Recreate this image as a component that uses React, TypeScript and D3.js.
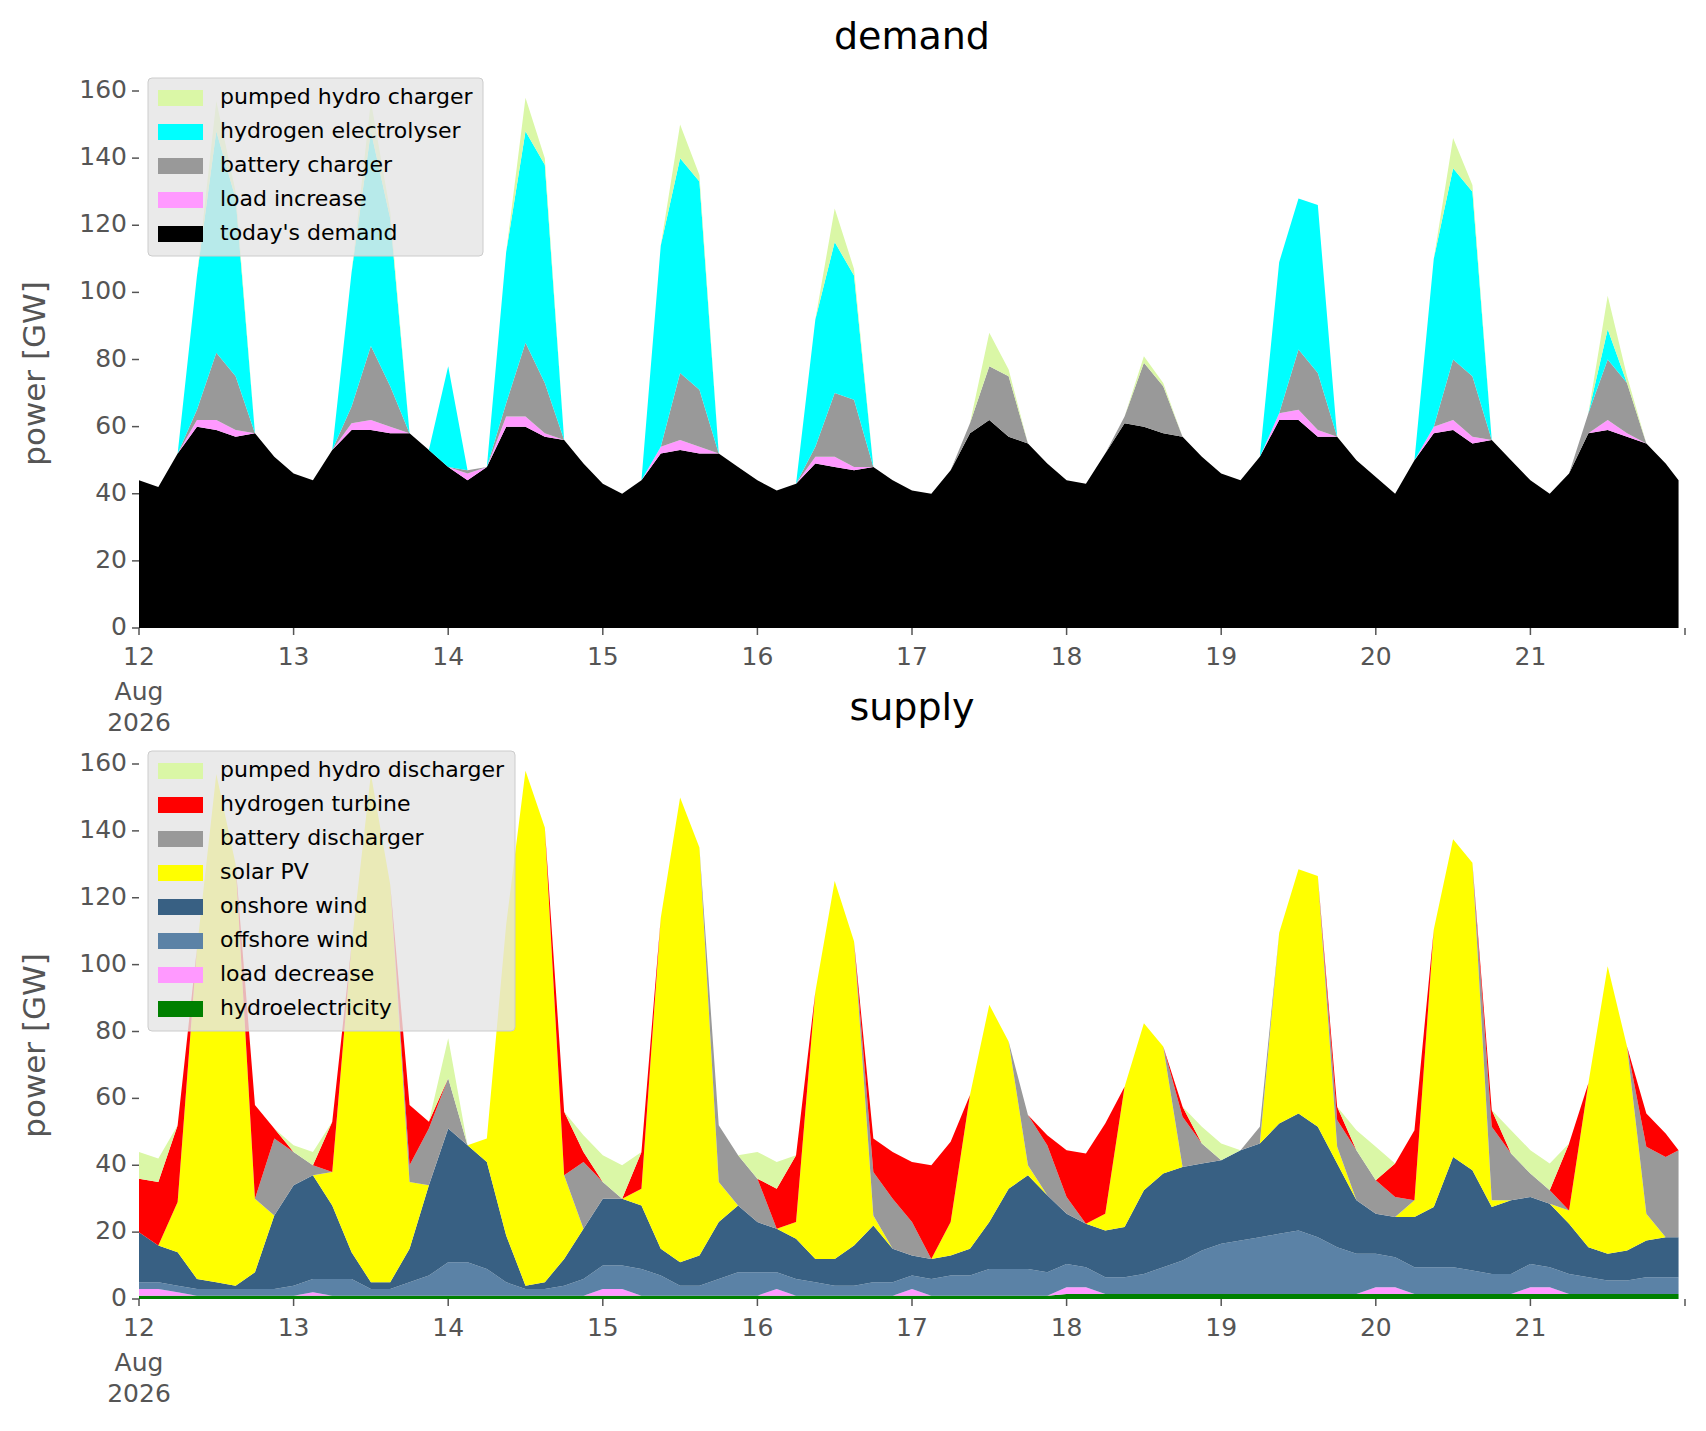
import React from 'react';
import * as d3 from 'd3';

// ── Data (3-hourly from 12 Aug 2026 00:00, last point 21 Aug 23:00) ─────────
const HOURS = [...d3.range(0, 240, 3), 239];
const DAY_LABELS = ['12', '13', '14', '15', '16', '17', '18', '19', '20', '21'];
const Y_TICKS = [0, 20, 40, 60, 80, 100, 120, 140, 160];

const todaysDemand = [
  44, 42, 52, 60, 59, 57, 58, 51, 46, 44, 53, 59, 59, 58, 58, 53,
  48, 44, 48, 60, 60, 57, 56, 49, 43, 40, 44, 52, 53, 52, 52, 48,
  44, 41, 43, 49, 48, 47, 48, 44, 41, 40, 47, 58, 62, 57, 55, 49,
  44, 43, 52, 61, 60, 58, 57, 51, 46, 44, 51, 62, 62, 57, 57, 50,
  45, 40, 50, 58, 59, 55, 56, 50, 44, 40, 46, 58, 59, 57, 55, 49, 44,
];
const loadIncrease = [
  0, 0, 0, 2, 3, 2, 0, 0, 0, 0, 0, 2, 3, 2, 0, 0,
  0, 2, 0, 3, 3, 1, 0, 0, 0, 0, 0, 2, 3, 2, 0, 0,
  0, 0, 0, 2, 3, 1, 0, 0, 0, 0, 0, 0, 0, 0, 0, 0,
  0, 0, 0, 0, 0, 0, 0, 0, 0, 0, 0, 2, 3, 2, 0, 0,
  0, 0, 0, 2, 3, 2, 0, 0, 0, 0, 0, 0, 3, 1, 0, 0, 0,
];
const batteryCharger = [
  0, 0, 0, 3, 20, 16, 0, 0, 0, 0, 0, 5, 22, 12, 0, 0,
  0, 1, 0, 4, 22, 15, 0, 0, 0, 0, 0, 0, 20, 17, 0, 0,
  0, 0, 0, 3, 19, 20, 0, 0, 0, 0, 0, 3, 16, 18, 0, 0,
  0, 0, 0, 2, 19, 14, 0, 0, 0, 0, 0, 0, 18, 17, 0, 0,
  0, 0, 0, 0, 18, 18, 0, 0, 0, 0, 0, 6, 18, 15, 0, 0, 0,
];
const electrolyser = [
  0, 0, 0, 40, 66, 53, 0, 0, 0, 0, 0, 40, 64, 50, 0, 0,
  30, 0, 0, 45, 63, 65, 0, 0, 0, 0, 0, 60, 64, 62, 0, 0,
  0, 0, 0, 38, 45, 37, 0, 0, 0, 0, 0, 0, 0, 0, 0, 0,
  0, 0, 0, 0, 0, 0, 0, 0, 0, 0, 0, 45, 45, 50, 0, 0,
  0, 0, 0, 50, 57, 55, 0, 0, 0, 0, 0, 0, 9, 0, 0, 0, 0,
];
const pumpedCharger = [
  0, 0, 0, 0, 9, 2, 0, 0, 0, 0, 0, 0, 9, 2, 0, 0,
  0, 0, 0, 0, 10, 2, 0, 0, 0, 0, 0, 0, 10, 2, 0, 0,
  0, 0, 0, 0, 10, 2, 0, 0, 0, 0, 0, 0, 10, 2, 0, 0,
  0, 0, 0, 0, 2, 1, 0, 0, 0, 0, 0, 0, 0, 0, 0, 0,
  0, 0, 0, 0, 9, 2, 0, 0, 0, 0, 0, 0, 10, 2, 0, 0, 0,
];

const hydro = [
  1, 1, 1, 1, 1, 1, 1, 1, 1, 1, 1, 1, 1, 1, 1, 1,
  1, 1, 1, 1, 1, 1, 1, 1, 1, 1, 1, 1, 1, 1, 1, 1,
  1, 1, 1, 1, 1, 1, 1, 1, 1, 1, 1, 1, 1, 1, 1, 1,
  1.5, 1.5, 1.5, 1.5, 1.5, 1.5, 1.5, 1.5, 1.5, 1.5, 1.5, 1.5, 1.5, 1.5, 1.5, 1.5,
  1.5, 1.5, 1.5, 1.5, 1.5, 1.5, 1.5, 1.5, 1.5, 1.5, 1.5, 1.5, 1.5, 1.5, 1.5, 1.5, 1.5,
];
const loadDecrease = [
  2, 2, 1, 0, 0, 0, 0, 0, 0, 1, 0, 0, 0, 0, 0, 0,
  0, 0, 0, 0, 0, 0, 0, 0, 2, 2, 0, 0, 0, 0, 0, 0,
  0, 2, 0, 0, 0, 0, 0, 0, 2, 0, 0, 0, 0, 0, 0, 0,
  2, 2, 0, 0, 0, 0, 0, 0, 0, 0, 0, 0, 0, 0, 0, 0,
  2, 2, 0, 0, 0, 0, 0, 0, 2, 2, 0, 0, 0, 0, 0, 0, 0,
];
const offshoreWind = [
  2, 2, 2, 2, 2, 2, 2, 2, 3, 4, 5, 5, 2, 2, 4, 6,
  10, 10, 8, 4, 2, 2, 3, 5, 7, 7, 8, 6, 3, 3, 5, 7,
  7, 5, 5, 4, 3, 3, 4, 4, 4, 5, 6, 6, 8, 8, 8, 7,
  7, 6, 5, 5, 6, 8, 10, 13, 15, 16, 17, 18, 19, 17, 14, 12,
  10, 9, 8, 8, 8, 7, 6, 6, 7, 6, 6, 5, 4, 4, 5, 5, 5,
];
const onshoreWind = [
  15, 11, 10, 3, 2, 1, 5, 22, 30, 31, 22, 8, 2, 2, 10, 27,
  40, 35, 32, 14, 1, 2, 8, 15, 20, 20, 19, 8, 7, 9, 17, 20,
  15, 13, 12, 7, 8, 12, 17, 10, 6, 6, 6, 8, 14, 24, 28, 23,
  15, 13, 14, 15, 25, 28, 28, 26, 25, 27, 28, 33, 35, 33, 25, 16,
  12, 12, 15, 18, 33, 30, 20, 22, 20, 19, 15, 9, 8, 9, 11, 12, 12,
];
const solarPV = [
  0, 0, 15, 99, 152, 126, 22, 0, 0, 0, 10, 92, 152, 119, 20, 0,
  0, 0, 7, 93, 154, 136, 25, 0, 0, 0, 5, 99, 139, 122, 12, 0,
  0, 0, 5, 80, 113, 91, 3, 0, 0, 0, 10, 46, 65, 44, 3, 0,
  0, 0, 5, 42, 50, 38, 0, 0, 0, 0, 0, 57, 73, 75, 5, 0,
  0, 0, 5, 83, 95, 92, 2, 0, 0, 0, 4, 49, 86, 61, 8, 0, 0,
];
const batteryDischarger = [
  0, 0, 0, 0, 0, 0, 0, 23, 10, 3, 0, 0, 0, 0, 5, 17,
  15, 0, 0, 0, 0, 0, 0, 20, 5, 0, 0, 0, 0, 0, 17, 15,
  13, 0, 0, 0, 0, 0, 13, 15, 10, 0, 0, 0, 0, 0, 15, 15,
  5, 0, 0, 0, 0, 0, 15, 6, 0, 0, 5, 0, 0, 0, 8, 15,
  10, 6, 0, 0, 0, 0, 22, 14, 7, 4, 0, 0, 0, 0, 20, 24, 26,
];
const hydrogenTurbine = [
  16, 19, 23, 0, 0, 0, 28, 3, 0, 0, 15, 0, 0, 0, 18, 2,
  0, 0, 0, 0, 0, 0, 19, 3, 0, 0, 11, 0, 0, 0, 0, 0,
  0, 12, 20, 0, 0, 0, 10, 14, 18, 28, 24, 0, 0, 0, 0, 3,
  14, 21, 27, 0, 0, 0, 3, 0, 0, 0, 0, 0, 0, 0, 4, 0,
  0, 10, 21, 0, 0, 0, 5, 0, 0, 0, 20, 0, 0, 0, 10, 7, 0,
];
const pumpedDischarger = [
  8, 7, 0, 0, 0, 0, 0, 0, 2, 4, 0, 0, 0, 0, 0, 0,
  12, 0, 0, 0, 0, 0, 0, 5, 8, 10, 0, 0, 0, 0, 0, 0,
  8, 8, 0, 0, 0, 0, 0, 0, 0, 0, 0, 0, 0, 0, 0, 0,
  0, 0, 0, 0, 0, 0, 0, 5, 5, 0, 0, 0, 0, 0, 0, 6,
  10, 0, 0, 0, 0, 0, 0, 7, 7, 8, 0, 0, 0, 0, 0, 0, 0,
];

interface Series { name: string; color: string; values: number[] }

// bottom → top stacking order
const DEMAND: Series[] = [
  { name: "today's demand", color: '#000000', values: todaysDemand },
  { name: 'load increase', color: '#ff99ff', values: loadIncrease },
  { name: 'battery charger', color: '#999999', values: batteryCharger },
  { name: 'hydrogen electrolyser', color: '#00ffff', values: electrolyser },
  { name: 'pumped hydro charger', color: '#daf7a6', values: pumpedCharger },
];
const SUPPLY: Series[] = [
  { name: 'hydroelectricity', color: '#008000', values: hydro },
  { name: 'load decrease', color: '#ff99ff', values: loadDecrease },
  { name: 'offshore wind', color: '#5b82a6', values: offshoreWind },
  { name: 'onshore wind', color: '#386083', values: onshoreWind },
  { name: 'solar PV', color: '#ffff00', values: solarPV },
  { name: 'battery discharger', color: '#999999', values: batteryDischarger },
  { name: 'hydrogen turbine', color: '#ff0000', values: hydrogenTurbine },
  { name: 'pumped hydro discharger', color: '#daf7a6', values: pumpedDischarger },
];

const FONT = '"DejaVu Sans", sans-serif';
const X0 = 139, X1 = 1685;
const x = d3.scaleLinear().domain([0, 239]).range([X0, X1 - 1546 / 240]);

const Panel: React.FC<{ title: string; series: Series[]; y0: number; y160: number; titleY: number; legendTop: number }> =
  ({ title, series, y0, y160, titleY, legendTop }) => {
  const y = d3.scaleLinear().domain([0, 160]).range([y0, y160]);
  const rows = HOURS.map((h, i) => {
    const r: Record<string, number> = { h };
    series.forEach(s => { r[s.name] = s.values[i]; });
    return r;
  });
  const stacked = d3.stack<Record<string, number>>().keys(series.map(s => s.name))(rows);
  const area = d3.area<d3.SeriesPoint<Record<string, number>>>()
    .x(d => x(d.data.h)).y0(d => y(d[0])).y1(d => y(d[1]));
  const legendItems = [...series].reverse();
  const legendW = title === 'demand' ? 335 : 367;
  const rowH = 34;
  const tickColor = '#555555';
  return (
    <g fontFamily={FONT}>
      <text x={912} y={titleY} textAnchor="middle" dominantBaseline="middle" fontSize={38} fill="#000">{title}</text>
      {stacked.map((layer, i) => (
        <path key={layer.key} d={area(layer) || ''} fill={series[i].color} />
      ))}
      {Y_TICKS.map(t => (
        <g key={t}>
          <line x1={X0 - 7} x2={X0} y1={y(t)} y2={y(t)} stroke={tickColor} strokeWidth={1.5} />
          <text x={X0 - 12} y={y(t)} textAnchor="end" dominantBaseline="middle" fontSize={25} fill={tickColor}>{t}</text>
        </g>
      ))}
      {DAY_LABELS.map((lab, i) => (
        <g key={lab}>
          <line x1={x(i * 24)} x2={x(i * 24)} y1={y0} y2={y0 + 7} stroke={tickColor} strokeWidth={1.5} />
          <text x={x(i * 24)} y={y0 + 30} textAnchor="middle" dominantBaseline="middle" fontSize={25} fill={tickColor}>{lab}</text>
        </g>
      ))}
      <line x1={X1} x2={X1} y1={y0} y2={y0 + 7} stroke={tickColor} strokeWidth={1.5} />
      <text x={x(0)} y={y0 + 65} textAnchor="middle" dominantBaseline="middle" fontSize={25} fill={tickColor}>Aug</text>
      <text x={x(0)} y={y0 + 96} textAnchor="middle" dominantBaseline="middle" fontSize={25} fill={tickColor}>2026</text>
      <text transform={`translate(36,${(y0 + y160) / 2 + 14}) rotate(-90)`} textAnchor="middle" dominantBaseline="middle"
        fontSize={31} fill={tickColor}>power [GW]</text>
      <g transform={`translate(148,${legendTop})`}>
        <rect width={legendW} height={legendItems.length * rowH + 8} rx={4} fill="#e5e5e5" fillOpacity={0.8} stroke="#cccccc" />
        {legendItems.map((s, i) => (
          <g key={s.name} transform={`translate(0,${20 + i * rowH})`}>
            <rect x={10} y={-8} width={45} height={16} fill={s.color} />
            <text x={72} y={0} dominantBaseline="middle" fontSize={22} fill="#000">{s.name}</text>
          </g>
        ))}
      </g>
    </g>
  );
};

export default function App() {
  return (
    <svg width={1706} height={1431} style={{ position: 'absolute', left: 0, top: 0, background: '#fff' }}>
      <Panel title="demand" series={DEMAND} y0={628} y160={91} titleY={38} legendTop={78} />
      <Panel title="supply" series={SUPPLY} y0={1299} y160={764} titleY={709} legendTop={751} />
    </svg>
  );
}
